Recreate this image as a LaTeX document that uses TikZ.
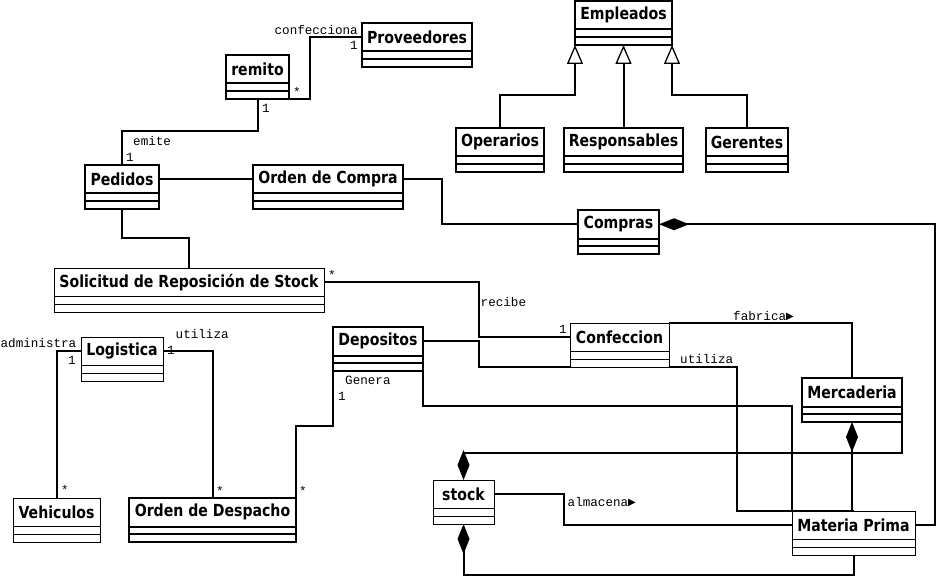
\documentclass[tikz,border=0pt]{standalone}
\usepackage{fontspec}
\usepackage{graphicx}
\setmainfont{DejaVu Sans}
\newfontfamily\monof{Liberation Mono}
\newfontfamily\symf{DejaVu Sans}
\usetikzlibrary{arrows.meta,calc}
\tikzset{
  boxa/.style={line width=2pt},
  boxb/.style={line width=1pt},
  cls/.style={draw, inner sep=0pt, outer sep=0pt, minimum height=44pt, anchor=north west},
  ttl/.style={inner sep=0pt, outer sep=0pt, minimum height=28.5pt, anchor=north,
    font=\fontsize{14.1pt}{16pt}\selectfont\bfseries},
  ln/.style={line width=2pt},
  lbl/.style={font=\monof\fontsize{12.6pt}{14pt}\selectfont, inner sep=0pt},
  comp/.style={ln, -{Diamond[length=30pt,width=12pt]}},
  gen/.style={ln, -{Triangle[open,length=19pt,width=16pt,line width=1.3pt]}},
}
\newcommand\umlcls[6]{%
  \node[cls,#5,minimum width=#4pt] (#1) at (#2,#3) {};
  \node[ttl,minimum width=#4pt] (#1-t) at (#1.north) {\scalebox{1}[1.18]{#6}};
  \draw[#5] ($(#1.north west)+(0,28.5)$) -- ($(#1.north east)+(0,28.5)$);
  \draw[#5] ($(#1.north west)+(0,36)$) -- ($(#1.north east)+(0,36)$);
}
\newcommand\tri{{\symf\fontsize{10pt}{10pt}\selectfont\raisebox{0.8pt}{▶}}}
\begin{document}
\begin{tikzpicture}[x=1pt,y=-1pt]
\fill[white] (0,0) rectangle (939,588);
\useasboundingbox (0,0) rectangle (939,588);

\umlcls{prov}{362}{23}{110}{boxa}{Proveedores}
\umlcls{remito}{226}{55}{63}{boxa}{remito}
\umlcls{emp}{575}{1}{97}{boxa}{Empleados}
\umlcls{oper}{456}{128}{88}{boxa}{Operarios}
\umlcls{resp}{564}{128}{119}{boxa}{Responsables}
\umlcls{ger}{706}{128}{82}{boxa}{Gerentes}
\umlcls{ped}{85}{165}{74}{boxa}{Pedidos}
\umlcls{odc}{253}{165}{150}{boxa}{Orden de Compra}
\umlcls{compras}{578}{210}{81}{boxa}{Compras}
\umlcls{sol}{54}{268}{270}{boxb}{Solicitud de Reposición de Stock}
\umlcls{log}{81}{337}{82}{boxb}{Logistica}
\umlcls{dep}{333}{327}{90}{boxa}{Depositos}
\umlcls{conf}{570}{323}{99}{boxb}{Confeccion}
\umlcls{merc}{802}{378}{100}{boxa}{Mercaderia}
\umlcls{stock}{433}{480}{61}{boxb}{stock}
\umlcls{mp}{792}{511}{123}{boxb}{Materia Prima}
\umlcls{veh}{13}{498}{87}{boxb}{Vehiculos}
\umlcls{odd}{129}{498}{167}{boxa}{Orden de Despacho}

% generalization
\draw[gen] (oper.north) -- (oper.north |- 0,95) -| (emp.south west);
\draw[gen] (resp.north) -- (resp.north |- emp.south);
\draw[gen] (ger.north) -- (ger.north |- 0,95) -| (emp.south east);

% associations
\draw[ln] (remito.south east) -- ++(21,0) |- (prov-t.west);
\draw[ln] (remito.south) -- ++(0,32) -| (ped.north);
\draw[ln] (ped-t.east) -- (odc-t.west);
\draw[ln] (odc-t.east) -- ++(39,0) |- (compras-t.west);
\draw[comp] (mp-t.east) -- ++(20,0) |- (compras-t.east);
\draw[ln] (ped.south) -- ++(0,29) -| (sol.north);
\draw[ln] (sol-t.east) -- ++(155,0) |- (conf-t.west);
\draw[ln] (dep-t.east) -- ++(56,0) |- (conf.south west);
\draw[ln] (conf.north east) -| (merc.north);
\draw[ln] (conf.south east) -- ++(68,0) |- (mp.north);
\draw[ln] (dep.south east) -- ++(0,35) -| (mp.north west);
\draw[comp] (merc.south |- mp.north) -- (merc.south);
\draw[comp] (merc.south east) -- ++(0,31) -| (stock.north);
\draw[comp] (mp.south) -- ++(0,20) -| (stock.south);
\draw[ln] (stock-t.east) -- ++(70,0) |- (mp-t.west);
\draw[ln] (log-t.west) -| (veh.north);
\draw[ln] (log-t.east) -| (odd.north);
\draw[ln] (odd.north east) -- ++(0,-72) -| (dep.south west);

% labels
\node[lbl, anchor=base east] (l1) at (358,34.5) {confecciona};
\node[lbl, anchor=base east] (l2) at (358,50) {1};
\node[lbl] (l3) at (297,92) {*};
\node[lbl, anchor=base west] (l4) at (262,112.5) {1};
\node[lbl, anchor=base west] (l5) at (133,145.5) {emite};
\node[lbl, anchor=base west] (l6) at (126,161.5) {1};
\node[lbl] (l7) at (332,275) {*};
\node[lbl, anchor=base west] (l8) at (480.5,306) {recibe};
\node[lbl, anchor=base west] (l9) at (559,333) {1};
\node[lbl, anchor=base west] (l10) at (733,320.5) {fabrica\tri};
\node[lbl, anchor=base west] (l11) at (680,363) {utiliza};
\node[lbl, anchor=base west] (l12) at (567.5,506) {almacena\tri};
\node[lbl, anchor=base east] (l13) at (76.5,347.5) {administra};
\node[lbl, anchor=base east] (l14) at (76,364) {1};
\node[lbl, anchor=base west] (l15) at (175.5,338) {utiliza};
\node[lbl, anchor=base west] (l16) at (167,354) {1};
\node[lbl, anchor=base west] (l17) at (345,384) {Genera};
\node[lbl, anchor=base west] (l18) at (338,400) {1};
\node[lbl] (l19) at (303,491) {*};
\node[lbl] (l20) at (65,490) {*};
\node[lbl] (l21) at (220,491) {*};
\end{tikzpicture}
\end{document}
